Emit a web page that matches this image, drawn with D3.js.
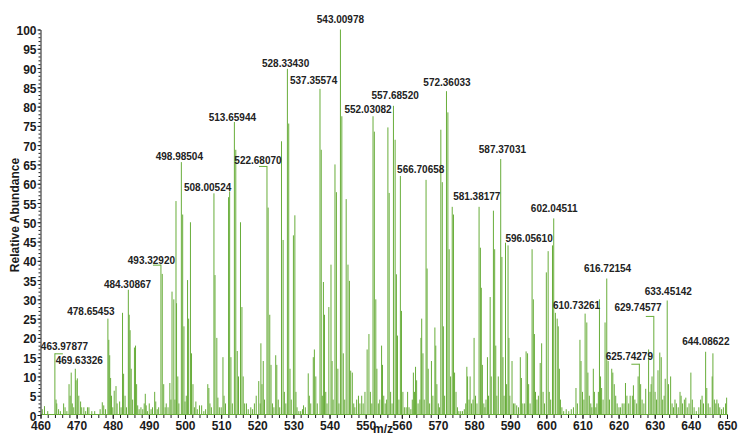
<!DOCTYPE html>
<html>
<head>
<meta charset="utf-8">
<script src="https://cdn.jsdelivr.net/npm/d3@7/dist/d3.min.js"></script>
<style>
  body { margin: 0; background: #fff; }
  svg { display: block; }
  text { font-family: Arial, "Liberation Sans", sans-serif; }
</style>
</head>
<body>
<svg id="chart" width="738" height="434"></svg>
<script>
// Centroided peaks: m/z and relative abundance (%), listed per 10 Da window
const peakMz = [
  460.5,461.1,462.0,463.97877,464.3,464.5,465.0,465.5,466.4,466.8,467.3,467.9,468.2,468.5,468.8,469.2,469.63326,469.85,
  470.2,470.6,471.1,471.4,472.0,472.5,473.0,473.4,474.2,475.0,476.5,477.1,477.5,478.0,478.65453,478.9,479.15,479.4,479.65,
  480.0,480.4,480.9,481.2,481.9,482.3,482.7,483.0,483.4,483.8,484.30867,484.55,484.8,485.1,485.5,486.0,486.3,486.6,486.9,487.3,487.8,488.3,488.7,489.0,489.25,489.6,
  490.1,490.6,491.0,491.6,491.9,492.3,492.7,493.32920,493.7,494.1,494.5,494.8,495.3,495.8,496.1,496.4,496.9,497.2,497.5,497.65,498.0,498.3,498.98504,499.35,499.7,
  500.0,500.35,500.7,501.0,501.5,501.8,502.2,502.6,503.0,503.4,504.0,504.6,505.2,505.7,506.3,506.6,506.9,507.3,508.00524,508.3,508.8,509.1,509.5,
  510.0,510.5,510.8,511.2,512.05,512.35,512.7,513.1,513.65944,514.05,514.45,514.8,515.35,515.75,516.1,516.5,517.0,517.5,518.2,518.7,519.2,519.7,
  520.4,520.8,521.0,521.3,521.65,522.0,522.68070,523.0,523.45,523.8,524.2,524.6,525.1,525.4,525.8,526.2,526.7,527.15,527.5,527.9,528.33430,528.7,529.05,529.4,
  530.0,530.4,530.7,531.0,531.5,532.0,532.5,532.8,533.3,534.1,534.4,534.8,535.5,535.8,536.2,536.6,537.35574,537.7,538.0,538.3,538.6,538.95,539.3,539.8,
  540.4,540.7,541.0,541.5,541.9,542.3,542.6,543.00978,543.4,543.8,544.2,544.6,545.1,545.5,545.85,546.3,546.7,547.0,547.5,548.0,548.4,548.9,549.3,549.8,
  550.4,550.9,551.3,551.7,552.03082,552.4,552.8,553.1,553.5,553.9,554.4,554.65,555.0,555.4,555.8,556.15,556.5,556.9,557.3,557.68520,558.15,558.5,558.8,559.2,559.6,559.9,
  560.3,560.7,561.2,561.6,562.0,562.5,562.9,563.2,563.5,563.8,564.1,564.5,565.0,565.3,565.5,565.85,566.2,566.70658,567.0,567.3,567.7,568.2,568.6,569.15,569.4,569.7,
  570.1,570.4,570.8,571.2,571.5,571.85,572.36033,572.75,573.1,573.5,573.95,574.3,574.6,575.0,575.4,575.8,576.3,576.8,577.3,577.7,578.0,578.2,578.6,578.9,579.3,579.7,
  580.0,580.4,580.8,581.38177,581.75,582.0,582.3,582.7,583.0,583.3,583.7,584.0,584.45,584.75,585.35,585.7,586.0,586.3,586.7,587.37031,587.7,588.0,588.3,588.7,589.0,589.4,589.65,589.9,
  590.5,590.9,591.3,591.8,592.3,592.8,593.1,593.5,594.0,594.4,594.8,595.1,595.5,596.05610,596.4,596.7,597.0,597.4,597.8,598.3,598.7,599.1,599.5,
  600.0,600.5,600.8,601.2,601.7,602.04511,602.5,603.0,603.3,603.6,603.9,604.3,604.8,605.5,606.2,606.9,607.5,608.2,608.6,609.3,609.6,610.0,610.4,
  610.73261,611.2,611.5,611.9,612.3,612.6,613.0,613.3,613.7,614.0,614.4,614.7,615.0,615.3,615.7,616.25,616.72154,617.1,617.5,618.1,618.4,618.8,619.2,619.6,
  620.1,620.5,621.0,621.5,621.9,622.3,622.8,623.2,623.8,624.1,624.5,625.0,625.4,625.74279,626.1,626.5,627.0,627.5,628.3,628.7,629.0,629.25,629.74577,
  630.1,630.5,630.9,631.4,631.8,632.2,632.6,632.9,633.45142,633.8,634.4,634.8,635.2,635.6,636.0,636.5,637.0,637.3,637.7,638.2,638.6,639.0,639.5,
  640.0,640.4,640.9,641.5,642.2,642.7,643.1,643.5,644.08622,644.4,644.8,645.3,645.9,646.1,646.5,646.9,647.2,647.6,648.0,648.5,649.0,649.6,649.9
];
const peakAbundance = [
  1.5,2.3,1,16,4,3,1.5,1,3,2,1,8,5,11,3,2,12,9,
  9.5,5,3.5,2,2,1,2,2,1,1,1.5,3.3,2.5,1.5,25,19.5,15.5,9.6,5,
  2,6.3,7.5,3,3.5,2,26.5,10.7,5,2,32.5,26,22,12,4,17.5,18,8,2.5,1.5,2,1.5,3,5.5,2.5,1,
  3,1.5,2,6,3.5,1.5,2,39,36.6,8,2,3,2,8.3,4,32,30,4,55.5,29,10,3,65.6,52,23,
  3.5,5,35,25,50,16,8,2,3.5,1.5,2.5,2.5,1,1.5,8,7,3,2,57.5,36.3,20,4.5,2,
  2,15,5,3,56.5,58,15,3,76,68.8,16.6,10,50,28,10,3,3,1.5,2,1.5,3,5,
  8.8,3,18.6,8,14,4,64.6,53.8,26,13,3,2,15.5,13,4,2,71,45.4,6,3,89.8,75.6,12,4,
  46.6,51.8,6,2,1,1,1.5,2.5,2,10.8,5,3,15,17,10,3,84.6,68.8,5,34.5,26,6,3,28,
  39,14,4,65,57.8,12,3,100,77.5,16,4,56,39,34.8,11.5,11,3,2,4,5,3,5,3,6,
  17,21,6,3,77.5,73.5,30,12,3,4,18,13,5,3,4,74.6,57.6,6,3,80.2,71.4,36.5,20.6,4,62,27,
  6,2,2,6,2,1.5,4,11,6,12.5,9,3,4,20,25,16,4,61,38,12,3,14,5,22.7,18,8,
  3,2,74,60.4,23,5,84,78.5,43,10,54,52,11,6,2,1,1,1,1.5,3,12.5,10,4,10,3,4,
  20,5,3,54,43.4,33,13,3,2,4,15,5,30.6,10,53,43,18,5,10,66.4,41,15,5,44.7,8,44,20,5,
  14,3,3,2.5,2,15,9.6,3,3,16.5,16,8,3,43,30,21,6,4,5,13.5,18.6,6,3,
  37,42.5,6,4,44,51,26.5,25,23,12,4,2,1,1.5,1,1.5,2,7,3,19.5,14,6,4,
  26.3,24,11,5,3,2,12,6,2,3,6,30,10,7,4,24,35.4,14,4,12,11,8,5,3,
  2,2,3,3,8.3,5,3,5,5,7.7,4,3,10,13.3,8,4,3,6.8,17,6,8,10,25.7,
  6,4,11.6,16.2,15,4,5,9.4,29.7,8,10,3,2,4,3,2,6,5,3,4,4.5,2,3,
  11,4,2,1,2,4,5,3,16.4,7,3,2,10,16,4,3,4,3,2,1.5,2,3,4.5
];

// Peaks annotated with their m/z
const labeledMz = [
  463.97877,469.63326,478.65453,484.30867,493.32920,498.98504,508.00524,513.65944,
  522.68070,528.33430,537.35574,543.00978,552.03082,557.68520,566.70658,572.36033,
  581.38177,587.37031,596.05610,602.04511,610.73261,616.72154,625.74279,629.74577,
  633.45142,644.08622
];

const xTickValues = d3.range(460, 651, 10);
const xMinorTicks = d3.range(460, 651, 2);
const yTickValues = d3.range(0, 101, 5);
const yMinorTicks = d3.range(0, 101, 1);

const xTitle = "m/z";
const yTitle = "Relative Abundance";

// ---- layout ----
const svg = d3.select("#chart");
const W = 738, H = 434;
svg.append("rect").attr("width", W).attr("height", H).attr("fill", "#fff");

const plotLeft = 40.5, plotRight = 727, plotTop = 29.5, plotBottom = 415;
const x = d3.scaleLinear().domain([460, 650]).range([plotLeft, plotRight]);
const y = d3.scaleLinear().domain([0, 100]).range([plotBottom, plotTop]);

const green = "#68ad3a";
const ink = "#1b1b1b";

// label placement tweaks: horizontal shift from the peak, gap above the peak top,
// and whether a leader line ties the label back to its peak
const labelTweak = {
  "463.97877": [9.6, 6.6, true],  "469.63326": [4, 8],    "478.65453": [-17, 7],
  "484.30867": [-0.8, 5.4],       "493.32920": [-9.5, 4.7, true], "498.98504": [-2, 5.4],
  "508.00524": [-6.3, 5.6],       "513.65944": [-2, 4.3], "522.68070": [-9, 6, true],
  "528.33430": [-1.8, 5.5],       "537.35574": [-6.4, 8.2], "543.00978": [0, 10.5],
  "552.03082": [-5, 7.2],         "557.68520": [1.7, 10.1], "566.70658": [-5.3, 10.8],
  "572.36033": [0.5, 8.5],        "581.38177": [-2.3, 10.1], "587.37031": [1.7, 10],
  "596.05610": [-3, 10.9],        "602.04511": [0.5, 10.1], "610.73261": [-8.6, 8.6],
  "616.72154": [0.8, 10.2],       "625.74279": [-10, 7, true], "629.74577": [-15.8, 8.6, true],
  "633.45142": [1.1, 8.8],        "644.08622": [0.2, 10.1]
};

// ---- peaks ----
const peaks = peakMz.map((m, i) => ({ mz: m, ab: peakAbundance[i] }));

// spectrum baseline
svg.append("line")
  .attr("x1", x(460)).attr("x2", x(650) + 1)
  .attr("y1", y(0) - 0.5).attr("y2", y(0) - 0.5)
  .attr("stroke", green).attr("stroke-width", 1);

svg.append("g").selectAll("line").data(peaks).join("line")
  .attr("x1", d => x(d.mz)).attr("x2", d => x(d.mz))
  .attr("y1", y(0)).attr("y2", d => y(d.ab))
  .attr("stroke", green).attr("stroke-width", 1);

// ---- axes ----
const yMinor = svg.append("g").attr("transform", `translate(${plotLeft},0)`)
  .call(d3.axisLeft(y).tickValues(yMinorTicks).tickSize(2).tickFormat(""));
yMinor.select(".domain").remove();
yMinor.selectAll("line").attr("stroke", ink);

const yAxis = svg.append("g").attr("transform", `translate(${plotLeft},0)`)
  .call(d3.axisLeft(y).tickValues(yTickValues).tickSize(3).tickPadding(1).tickSizeOuter(0));
yAxis.select(".domain").attr("stroke", ink);
yAxis.selectAll("line").attr("stroke", ink);
yAxis.selectAll("text")
  .attr("fill", ink).attr("font-size", 12).attr("font-weight", "bold")
  .attr("font-family", 'Arial, "Liberation Sans", sans-serif')
  .attr("dy", "0.42em");

const xMinor = svg.append("g").attr("transform", `translate(0,${plotBottom})`)
  .call(d3.axisBottom(x).tickValues(xMinorTicks).tickSize(3).tickFormat(""));
xMinor.select(".domain").remove();
xMinor.selectAll("line").attr("stroke", ink);

const xAxis = svg.append("g").attr("transform", `translate(0,${plotBottom})`)
  .call(d3.axisBottom(x).tickValues(xTickValues).tickSize(4).tickPadding(2).tickSizeOuter(0));
xAxis.select(".domain").remove();
xAxis.selectAll("line").attr("stroke", ink);
xAxis.selectAll("text")
  .attr("fill", ink).attr("font-size", 12).attr("font-weight", "bold")
  .attr("font-family", 'Arial, "Liberation Sans", sans-serif');

// axis titles
svg.append("text")
  .attr("transform", `translate(15,215) rotate(-90)`)
  .attr("text-anchor", "middle").attr("dominant-baseline", "central")
  .attr("font-size", 12).attr("font-weight", "bold").attr("fill", ink)
  .text(yTitle);

svg.append("text")
  .attr("x", 383).attr("y", 433)
  .attr("text-anchor", "middle")
  .attr("font-size", 12).attr("font-weight", "bold").attr("fill", ink)
  .text(xTitle);

// ---- peak annotations ----
const fmt = d3.format(".5f");
const labelLayer = svg.append("g");
labeledMz.forEach(m => {
  const p = peaks.find(d => d.mz === m);
  if (!p) return;
  const key = fmt(m);
  const [dx, gap, leader] = labelTweak[key] || [0, 6, false];
  const px = x(p.mz), top = y(p.ab);
  const cx = px + dx;
  if (leader) {
    const len = Math.min(Math.abs(dx), 8) * Math.sign(dx);
    labelLayer.append("line")
      .attr("x1", px).attr("x2", px + len)
      .attr("y1", top + 0.5).attr("y2", top + 0.5)
      .attr("stroke", green).attr("stroke-width", 1);
  }
  labelLayer.append("text")
    .attr("x", cx).attr("y", top - gap + 3.6)
    .attr("text-anchor", "middle")
    .attr("font-size", 10).attr("font-weight", "bold").attr("fill", "#222")
    .text(key);
});
</script>
</body>
</html>
